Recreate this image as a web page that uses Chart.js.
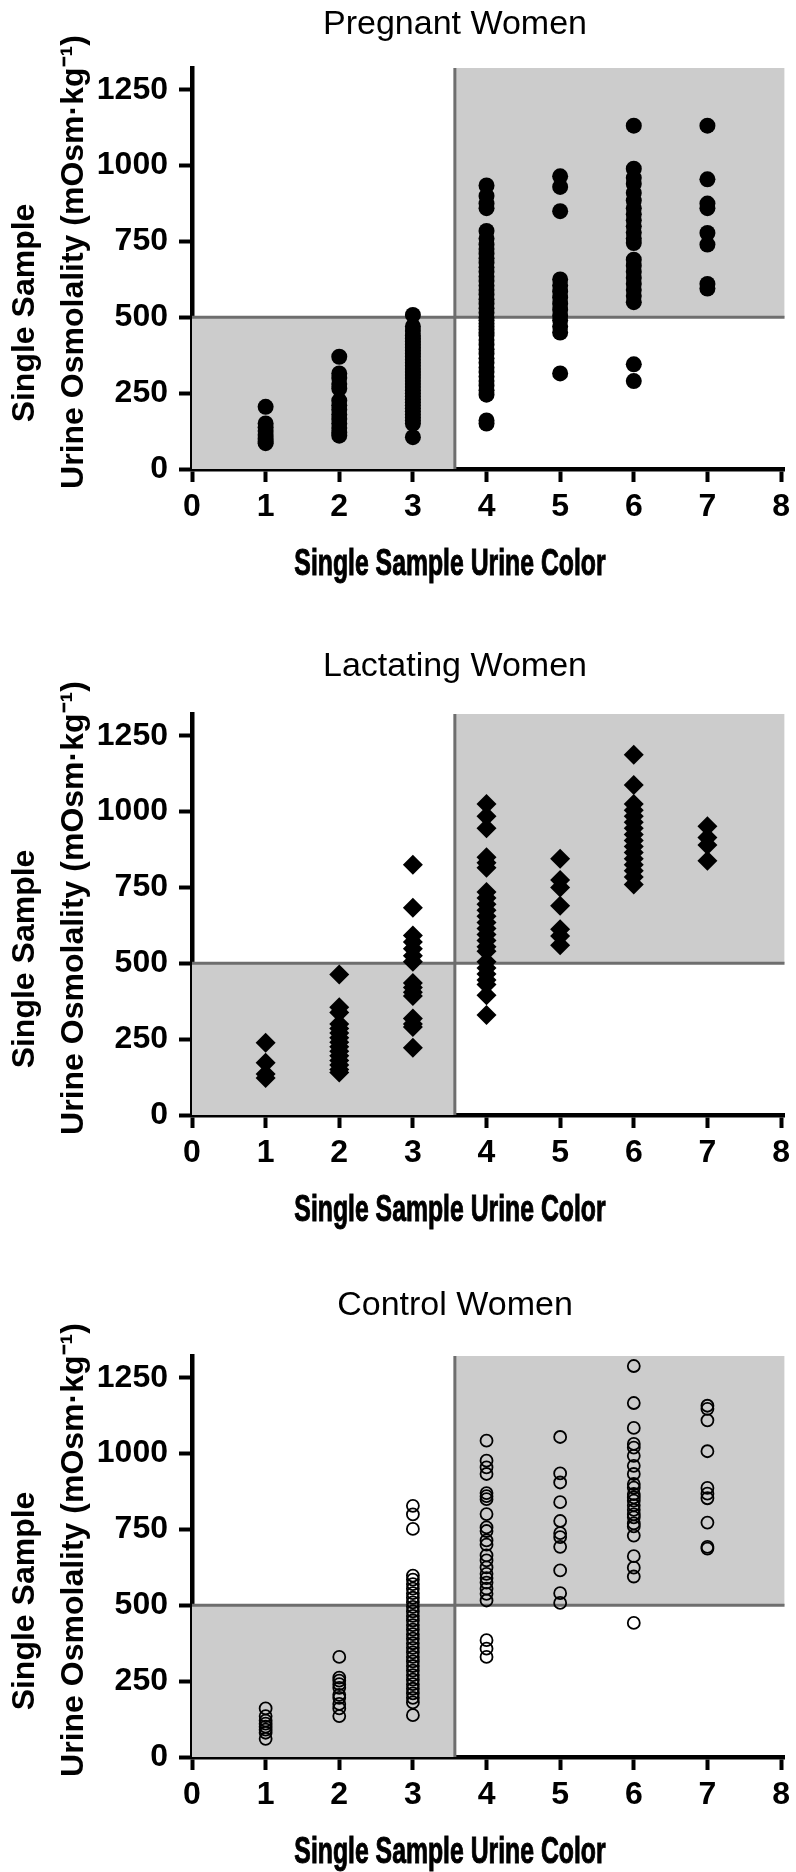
<!DOCTYPE html>
<html>
<head>
<meta charset="utf-8">
<script src="https://cdn.jsdelivr.net/npm/chart.js@4.4.1/dist/chart.umd.min.js"></script>
<style>
  html, body { margin: 0; padding: 0; background: #fff; overflow: hidden; }
  canvas { display: block; }
</style>
</head>
<body>
<canvas id="pregnantChart" width="796" height="646"></canvas>
<canvas id="lactatingChart" width="796" height="642"></canvas>
<canvas id="controlChart" width="796" height="584"></canvas>
<script>
// urine colour categories and axis ticks
var colorCategories = [1, 2, 3, 4, 5, 6, 7];
var colorTicks = [0, 1, 2, 3, 4, 5, 6, 7, 8];
var osmTicks = [0, 250, 500, 750, 1000, 1250];
var colorMax = 8.05;
var osmMax = 1322;

// cut-offs of the shaded quadrants
var colorCut = 3.57;
var osmCut = 500;

// osmolality values, one list per urine colour (1..7)
var pregnantOsm = [
    [205, 150, 138, 125, 112, 100, 90, 85],
    [370, 315, 300, 280, 265, 225, 210, 195, 180, 165, 150, 135, 120, 110],
    [508, 470, 455, 440, 430, 420, 410, 400, 390, 380, 370, 360, 350, 340, 330, 320, 310, 300, 290, 280, 270, 260, 250, 240, 230, 220, 210, 200, 190, 180, 170, 160, 150, 105],
    [935, 900, 875, 860, 785, 760, 740, 725, 710, 695, 680, 665, 650, 635, 620, 605, 590, 575, 560, 545, 530, 515, 500, 490, 480, 470, 460, 450, 440, 425, 410, 395, 380, 365, 350, 335, 320, 305, 290, 275, 260, 245, 160, 150],
    [965, 930, 850, 625, 605, 585, 565, 545, 525, 505, 490, 470, 450, 315],
    [1132, 990, 960, 940, 910, 885, 860, 840, 820, 800, 780, 760, 745, 690, 670, 650, 630, 610, 590, 570, 550, 345, 290],
    [1132, 955, 875, 860, 778, 740, 610, 595]
];
var lactatingOsm = [
    [238, 172, 135, 122],
    [463, 355, 338, 300, 285, 270, 255, 240, 225, 210, 195, 180, 165, 150, 140],
    [825, 683, 592, 570, 548, 525, 505, 435, 420, 405, 392, 318, 300, 290, 222],
    [1025, 985, 945, 850, 832, 815, 735, 715, 695, 675, 655, 635, 615, 595, 575, 555, 540, 505, 485, 465, 445, 430, 395, 330],
    [845, 775, 750, 690, 612, 590, 560],
    [1188, 1088, 1025, 1005, 985, 965, 945, 925, 905, 885, 865, 845, 825, 805, 785, 760],
    [952, 915, 890, 838]
];
var controlOsm = [
    [160, 135, 120, 110, 100, 90, 80, 60],
    [330, 262, 252, 240, 228, 205, 195, 175, 160, 135],
    [828, 800, 752, 598, 585, 570, 555, 540, 525, 510, 495, 480, 465, 450, 435, 420, 405, 390, 375, 360, 345, 330, 315, 300, 285, 270, 255, 240, 225, 210, 195, 180, 138],
    [1043, 977, 955, 933, 870, 860, 850, 801, 757, 745, 714, 700, 665, 648, 625, 604, 590, 575, 555, 538, 516, 385, 357, 330],
    [1055, 935, 905, 840, 778, 738, 725, 693, 615, 540, 508],
    [1289, 1167, 1085, 1032, 1020, 993, 960, 933, 900, 888, 867, 856, 845, 830, 815, 800, 790, 770, 760, 730, 662, 624, 595, 442],
    [1158, 1148, 1110, 1008, 887, 868, 853, 773, 693, 687]
];

var fontFamily = '"Liberation Sans", Arial, Helvetica, sans-serif';
Chart.defaults.font.family = fontFamily;
Chart.defaults.color = '#000';

// panel heading and axis titles, placed like the original figure
var panelText = {
    id: 'panelText',
    afterDraw: function (chart, args, opts) {
        var ctx = chart.ctx;
        ctx.save();
        ctx.fillStyle = '#000';
        ctx.strokeStyle = '#000';
        ctx.textAlign = 'center';
        ctx.textBaseline = 'middle';
        ctx.font = '34px ' + fontFamily;
        ctx.fillText(opts.title, opts.titleX, opts.titleY);

        // x title in a condensed, heavy face, like the original
        ctx.save();
        ctx.font = 'bold 37px ' + fontFamily;
        ctx.translate(opts.xTitle.x, chart.chartArea.bottom + opts.xTitle.dy);
        ctx.scale(0.67, 1);
        ctx.lineWidth = 1;
        ctx.fillText(opts.xTitle.text, 0, 0);
        ctx.strokeText(opts.xTitle.text, 0, 0);
        ctx.restore();

        ctx.font = 'bold 32px ' + fontFamily;
        opts.yTitle.forEach(function (line) {
            ctx.save();
            ctx.translate(line.x, line.y);
            ctx.rotate(-Math.PI / 2);
            ctx.fillText(line.text, 0, 0);
            ctx.restore();
        });
        ctx.restore();
    }
};

function toPoints(groups) {
    var pts = [];
    groups.forEach(function (vals, i) {
        vals.forEach(function (v) {
            pts.push({ x: colorCategories[i], y: v });
        });
    });
    return pts;
}

function makePanel(id, title, titleY, groups, markStyle, bottomPad) {
    var ctx = document.getElementById(id).getContext('2d');
    var points = Object.assign({
        type: 'scatter',
        data: toPoints(groups),
        clip: false,
        order: 1
    }, markStyle);

    return new Chart(ctx, {
        type: 'scatter',
        data: {
            datasets: [
                points,
                {   // lower-left shaded box
                    type: 'line',
                    data: [{ x: 0, y: osmCut }, { x: colorCut, y: osmCut }],
                    fill: 'origin',
                    backgroundColor: '#cccccc',
                    borderWidth: 0,
                    pointRadius: 0,
                    order: 3
                },
                {   // upper-right shaded box
                    type: 'line',
                    data: [{ x: colorCut, y: osmMax }, { x: colorMax, y: osmMax }],
                    fill: { value: osmCut },
                    backgroundColor: '#cccccc',
                    borderWidth: 0,
                    pointRadius: 0,
                    order: 3
                },
                {
                    type: 'line',
                    data: [{ x: 0, y: osmCut }, { x: colorMax, y: osmCut }],
                    borderColor: '#6e6e6e',
                    borderWidth: 3,
                    pointRadius: 0,
                    fill: false,
                    order: 2
                },
                {
                    type: 'line',
                    data: [{ x: colorCut, y: 0 }, { x: colorCut, y: osmMax }],
                    borderColor: '#6e6e6e',
                    borderWidth: 3,
                    pointRadius: 0,
                    fill: false,
                    order: 2
                }
            ]
        },
        options: {
            responsive: false,
            animation: false,
            events: [],
            layout: { padding: { top: 68, right: 8, bottom: bottomPad, left: 0 } },
            plugins: {
                legend: { display: false },
                tooltip: { enabled: false },
                panelText: {
                    title: title, titleX: 455, titleY: titleY,
                    xTitle: { text: 'Single Sample Urine Color', x: 450, dy: 96 },
                    yTitle: [
                        { text: 'Single Sample', x: 25, y: 313 },
                        { text: 'Urine Osmolality (mOsm\u00b7kg\u207b\u00b9)', x: 74, y: 262 }
                    ]
                }
            },
            scales: {
                x: {
                    type: 'linear',
                    min: 0,
                    max: colorMax,
                    afterBuildTicks: function (s) {
                        s.ticks = colorTicks.map(function (v) { return { value: v }; });
                    },
                    afterFit: function (s) { s.height = 115; },
                    ticks: {
                        font: { size: 32, weight: 'bold' },
                        color: '#000', padding: 6, maxRotation: 0,
                        callback: function (v) { return String(v); }
                    },
                    grid: { drawOnChartArea: false, tickLength: 13, tickWidth: 4, tickColor: '#000' },
                    border: { display: true, color: '#000', width: 4.5 }
                },
                y: {
                    type: 'linear',
                    min: 0,
                    max: osmMax,
                    afterBuildTicks: function (s) {
                        s.ticks = osmTicks.map(function (v) { return { value: v }; });
                    },
                    afterFit: function (s) { s.width = 192; },
                    ticks: {
                        font: { size: 32, weight: 'bold' },
                        color: '#000', padding: 11,
                        callback: function (v) { return String(v); }
                    },
                    grid: { drawOnChartArea: false, tickLength: 13, tickWidth: 4, tickColor: '#000' },
                    border: { display: true, color: '#000', width: 4.5 }
                }
            }
        },
        plugins: [panelText]
    });
}

document.addEventListener('DOMContentLoaded', function () {
    makePanel('pregnantChart', 'Pregnant Women', 25, pregnantOsm, {
        pointStyle: 'circle', pointRadius: 8, backgroundColor: '#000', borderWidth: 0
    }, 646 - 584);
    makePanel('lactatingChart', 'Lactating Women', 21, lactatingOsm, {
        pointStyle: 'rectRot', pointRadius: 10, backgroundColor: '#000', borderWidth: 0
    }, 642 - 584);
    makePanel('controlChart', 'Control Women', 18, controlOsm, {
        pointStyle: 'circle', pointRadius: 6, backgroundColor: 'rgba(0,0,0,0)', borderColor: '#000', borderWidth: 1.8
    }, 584 - 584);
});
</script>
</body>
</html>
